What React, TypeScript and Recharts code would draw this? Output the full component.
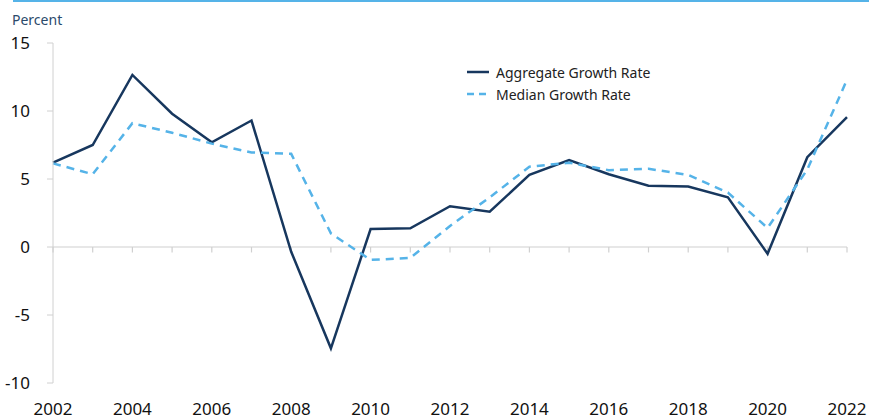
import React from "react";
import { LineChart, Line, XAxis, YAxis, ReferenceLine } from "recharts";

const years = [2002, 2003, 2004, 2005, 2006, 2007, 2008, 2009, 2010, 2011, 2012, 2013, 2014, 2015, 2016, 2017, 2018, 2019, 2020, 2021, 2022];
const aggregate = [6.2, 7.5, 12.65, 9.8, 7.7, 9.3, -0.35, -7.45, 1.32, 1.38, 3.0, 2.6, 5.3, 6.4, 5.35, 4.5, 4.45, 3.65, -0.5, 6.6, 9.55];
const median = [6.15, 5.35, 9.1, 8.4, 7.6, 6.95, 6.85, 1.0, -0.95, -0.8, 1.55, 3.65, 5.9, 6.2, 5.65, 5.75, 5.3, 4.0, 1.4, 5.7, 12.3];
const xTicks = [2002, 2004, 2006, 2008, 2010, 2012, 2014, 2016, 2018, 2020, 2022];
const yTicks = [-10, -5, 0, 5, 10, 15];
const seriesNames = ["Aggregate Growth Rate", "Median Growth Rate"];

const data = years.map((y, i) => ({ year: y, aggregate: aggregate[i], median: median[i] }));

const NAVY = "#17375e";
const LIGHT = "#55b3e8";
const GRID = "#d0d0d0";
const FONT = "'Noto Sans', sans-serif";

const legendItems = [
  { name: seriesNames[0], color: NAVY, dash: undefined as string | undefined },
  { name: seriesNames[1], color: LIGHT, dash: "7 5" },
];

export default function App() {
  return (
    <div style={{ position: "absolute", left: 0, top: 0, width: 869, height: 420, background: "#fff" }}>
      <div style={{ position: "absolute", left: 13, top: 0, width: 856, height: 2, background: LIGHT }} />
      <div style={{ position: "absolute", left: 12, top: 10, fontFamily: FONT, fontSize: 14, color: "#2b4a6b" }}>Percent</div>
      <LineChart width={869} height={420} data={data} margin={{ top: 43, right: 22, left: 0, bottom: 0 }}>
        <XAxis
          dataKey="year"
          type="number"
          domain={[2002, 2022]}
          ticks={xTicks}
          axisLine={false}
          tickLine={false}
          height={37}
          tickMargin={14}
          tick={{ fill: "#111", fontSize: 17, fontFamily: FONT }}
          interval={0}
        />
        <YAxis
          domain={[-10, 15]}
          ticks={yTicks}
          width={53}
          axisLine={{ stroke: GRID }}
          tickLine={{ stroke: GRID }}
          tickSize={6}
          tickMargin={17}
          tick={{ fill: "#111", fontSize: 17, fontFamily: FONT }}
          interval={0}
        />
        <ReferenceLine y={0} stroke={GRID} strokeWidth={1.2} />
        {years.map((yr) => (
          <ReferenceLine key={yr} segment={[{ x: yr, y: 0 }, { x: yr, y: -0.4 }]} stroke={GRID} strokeWidth={1.2} />
        ))}
        <Line type="linear" dataKey="aggregate" name={seriesNames[0]} stroke={NAVY} strokeWidth={2.5} dot={false} isAnimationActive={false} />
        <Line type="linear" dataKey="median" name={seriesNames[1]} stroke={LIGHT} strokeWidth={2.5} strokeDasharray="8 6" dot={false} isAnimationActive={false} />
      </LineChart>
      <div style={{ position: "absolute", left: 467, top: 61, fontFamily: FONT, fontSize: 14, color: "#222" }}>
        {legendItems.map((p) => (
          <div key={p.name} style={{ display: "flex", alignItems: "center", height: 22 }}>
            <svg width={22} height={10} style={{ marginRight: 7 }}>
              <line x1={0} y1={5} x2={22} y2={5} stroke={p.color} strokeWidth={2.5} strokeDasharray={p.dash} />
            </svg>
            <span>{p.name}</span>
          </div>
        ))}
      </div>
    </div>
  );
}
